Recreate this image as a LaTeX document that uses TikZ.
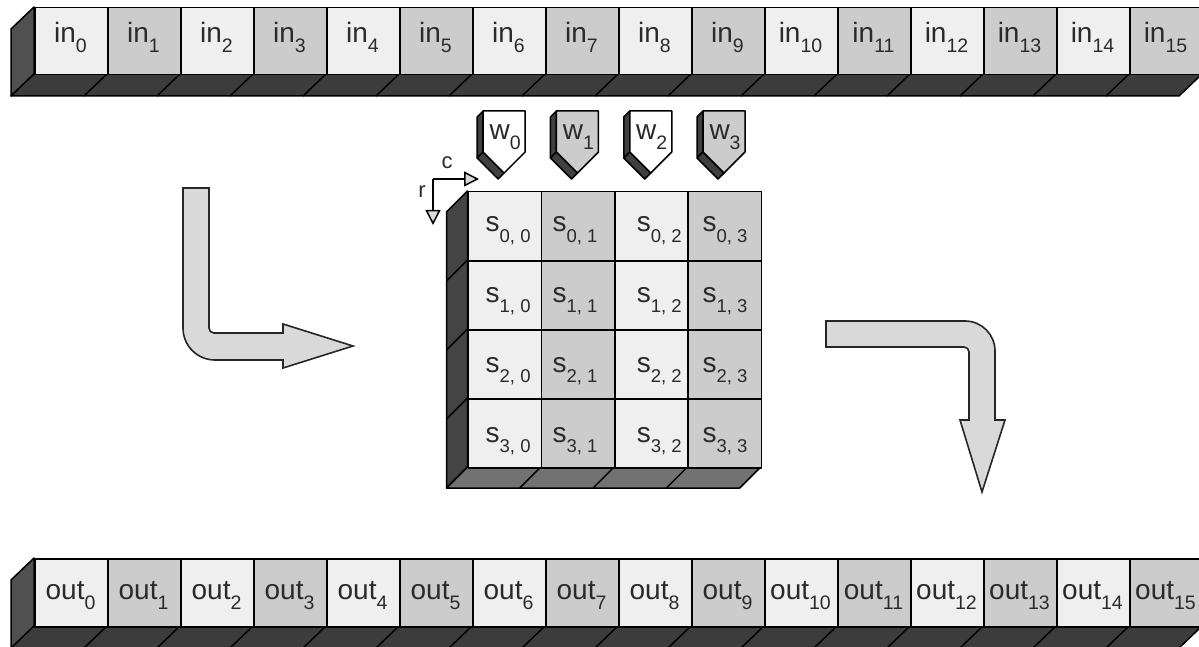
\documentclass[tikz,border=0pt]{standalone}
\usepackage{fontspec}
\setmainfont{Liberation Sans}
\usetikzlibrary{arrows.meta}

\definecolor{cellA}{HTML}{EFEFEF}
\definecolor{cellB}{HTML}{CCCCCC}
\definecolor{sideface}{HTML}{505050}
\definecolor{baseface}{HTML}{3C3C3C}
\definecolor{mside}{HTML}{444444}
\definecolor{mbase}{HTML}{727272}
\definecolor{wface}{HTML}{404040}
\definecolor{arrowfill}{HTML}{D9D9D9}
\definecolor{ink}{HTML}{2A2A2A}

\newcommand{\bigtxt}{\fontsize{28}{28}\selectfont}
\newcommand{\lowidx}[1]{\raisebox{-10pt}{\fontsize{19.5}{19.5}\selectfont #1}}
\newcommand{\lowpair}[1]{\raisebox{-10pt}{\fontsize{18.5}{18.5}\selectfont #1}}

\tikzset{
  edge/.style={draw=black, line width=1.5pt, line join=round},
  cell/.style={edge, minimum width=73pt, minimum height=67pt, inner sep=0pt, anchor=north west},
  mcell/.style={edge, minimum width=73.3pt, minimum height=69pt, inner sep=0pt, anchor=north west},
  txt/.style={text=ink, inner sep=0pt, font=\bigtxt},
  bent/.style={fill=arrowfill, draw=black!85, line width=1.6pt, line join=miter},
  axis/.style={draw=black, line width=1.5pt, -{Triangle[length=15pt, width=15pt, fill=arrowfill, line width=1.5pt]}},
}

\begin{document}
\begin{tikzpicture}[x=1pt, y=-1pt]
\useasboundingbox (0,0) rectangle (1199,647);
\clip (0,0) rectangle (1199,647);

% ---------------- input row ----------------
\filldraw[edge, fill=sideface] (34,7) -- (11,29) -- (11,96) -- (34,74) -- cycle;
\filldraw[edge, fill=baseface] (34,74) -- (11,96) -- (1179,96) -- (1202,74) -- cycle;
\foreach \i in {1,...,15} {
  \draw[edge] (34+73*\i,74) -- ++(-23,22);
}
\foreach \i in {0,...,15} {
  \pgfmathsetmacro\xl{34+73*\i}
  \pgfmathtruncatemacro\odd{mod(\i,2)}
  \ifnum\odd=0 \def\cc{cellA}\else\def\cc{cellB}\fi
  \node[cell, fill=\cc, minimum height=67pt] (in\i) at (\xl,7) {};
  \node[txt, anchor=base] (inlab\i) at (\xl+36.5,43) {in\lowidx{\i}};
}

% ---------------- output row ----------------
\filldraw[edge, fill=sideface] (34,558) -- (11,580) -- (11,650) -- (34,626) -- cycle;
\filldraw[edge, fill=baseface] (34,626) -- (11,648) -- (1179,648) -- (1202,626) -- cycle;
\foreach \i in {1,...,15} {
  \draw[edge] (34+73*\i,626) -- ++(-23,22);
}
\foreach \i in {0,...,15} {
  \pgfmathsetmacro\xl{34+73*\i}
  \pgfmathtruncatemacro\odd{mod(\i,2)}
  \ifnum\odd=0 \def\cc{cellA}\else\def\cc{cellB}\fi
  \node[cell, fill=\cc, minimum height=68pt] (out\i) at (\xl,558) {};
  \node[txt, anchor=base] (outlab\i) at (\xl+36.5,599) {out\lowidx{\i}};
}

% ---------------- state matrix ----------------
\filldraw[edge, fill=mside] (467.5,191) -- (446.5,212) -- (446.5,488) -- (467.5,467) -- cycle;
\filldraw[edge, fill=mbase] (467.5,467) -- (446.5,488) -- (739.7,488) -- (760.7,467) -- cycle;
\foreach \i in {1,2,3} {
  \draw[edge] (467.5,191+69*\i) -- ++(-21,21);
  \draw[edge] (467.5+73.3*\i,467) -- ++(-21,21);
}
\foreach \r in {0,...,3} {
  \foreach \c/\dx in {0/18,1/11.5,2/22.5,3/15} {
    \pgfmathsetmacro\xl{467.5+73.3*\c}
    \pgfmathsetmacro\yt{191+69*\r}
    \pgfmathtruncatemacro\odd{mod(\c,2)}
    \ifnum\odd=0 \def\cc{cellA}\else\def\cc{cellB}\fi
    \node[mcell, fill=\cc] (s\r\c) at (\xl,\yt) {};
    \node[txt, anchor=base west] (slab\r\c) at (\xl+\dx,232+70*\r) {s\lowpair{\r, \c}};
  }
}

% ---------------- key words ----------------
\foreach \c in {0,...,3} {
  \pgfmathsetmacro\cx{467.5+73.3*\c+36.65}
  \pgfmathtruncatemacro\odd{mod(\c,2)}
  \ifnum\odd=0 \def\cc{white}\else\def\cc{cellB}\fi
  \filldraw[edge, fill=wface] (\cx-21,111) -- (\cx-27,117) -- (\cx-27,158) -- (\cx-21,152) -- cycle;
  \filldraw[edge, fill=wface] (\cx-21,152) -- (\cx-27,158) -- (\cx-6,179) -- (\cx,173) -- cycle;
  \filldraw[edge, fill=\cc] (\cx-21,111) -- (\cx+21,111) -- (\cx+21,152) -- (\cx,173) -- (\cx-21,152) -- cycle;
  \node[txt, anchor=base] (wlab\c) at (\cx+1,140) {w\lowidx{\c}};
}

% ---------------- row / column axes ----------------
\coordinate (axo) at (433,179);
\coordinate (axc) at (479,179);
\coordinate (axr) at (433,225);
\draw[axis] (axo) -- (axc);
\draw[axis] (axo) -- (axr);
\node[txt, font=\fontsize{22}{22}\selectfont] (clab) at (447,163) {c};
\node[txt, font=\fontsize{22}{22}\selectfont] (rlab) at (422,192) {r};

% ---------------- bent flow arrows ----------------
\filldraw[bent] (183,188) -- (209,188) -- (209,328)
  .. controls (209,330.8) and (211.2,333) .. (214,333)
  -- (283,333) -- (283,324) -- (353,346) -- (283,368) -- (283,360) -- (215,360)
  .. controls (197.3,360) and (183,345.7) .. (183,328) -- cycle;

\filldraw[bent] (826,321) -- (965,321)
  .. controls (981.6,321) and (995,334.4) .. (995,351)
  -- (995,420) -- (1005,420) -- (982,492) -- (960,420) -- (969,420) -- (969,352)
  .. controls (969,349.2) and (966.8,347) .. (964,347)
  -- (826,347) -- cycle;
\end{tikzpicture}
\end{document}
